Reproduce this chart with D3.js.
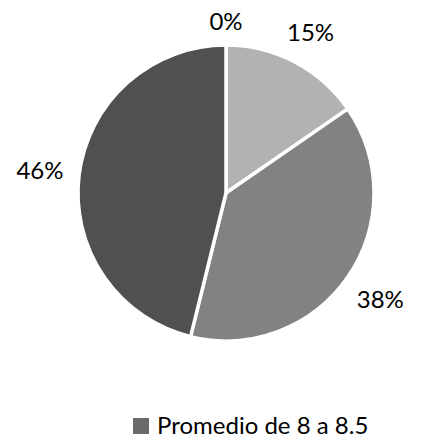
<!DOCTYPE html>
<html>
<head>
<meta charset="utf-8">
<script src="https://cdn.jsdelivr.net/npm/d3@7"></script>
<style>
  body { margin: 0; background: #fff; }
  svg text { font-family: Lato, "Open Sans", sans-serif; fill: #000; }
</style>
</head>
<body>
<svg id="chart"></svg>
<script>
// data (counts, shares shown as %)
var values = [0, 2, 5, 6];
var colors = ["#6a6a6a", "#b2b2b2", "#828282", "#505050"];
var legendLabels = ["Promedio de 8 a 8.5"];

var width = 422;
var height = 440;
var cx = 226, cy = 193;
var radius = 148;
var fontSize = 24;

var svg = d3.select('#chart')
    .attr('width', width)
    .attr('height', height);

var total = d3.sum(values);
var pct = d3.format('.0%');

var pie = d3.pie()
    .sort(null)
    .value(d => d);

var arcs = pie(values);

var arcGen = d3.arc()
    .innerRadius(0)
    .outerRadius(radius);

var g = svg.append('g')
    .attr('transform', `translate(${cx},${cy})`);

g.selectAll('path').data(arcs)
    .enter().append('path')
    .attr('d', arcGen)
    .attr('fill', (d, i) => colors[i])
    .attr('stroke', '#fff')
    .attr('stroke-width', 3.5)
    .attr('stroke-linejoin', 'round');

// labels outside the pie, pushed out by the half size of their box
var gap = 15;
var halfH = 9;
var labels = g.selectAll('text.lbl').data(arcs)
    .enter().append('text')
    .attr('class', 'lbl')
    .attr('text-anchor', 'middle')
    .style('font-size', fontSize + 'px')
    .text(d => pct(d.value / total));

labels.each(function(d) {
    var halfW = this.getBBox().width / 2;
    var a = (d.startAngle + d.endAngle) / 2;
    var s = Math.sin(a), c = Math.cos(a);
    var dist = radius + gap + Math.abs(halfW * s) + Math.abs(halfH * c);
    d3.select(this)
        .attr('x', dist * s)
        .attr('y', -dist * c + fontSize * 0.36);
});

// legend (only the first entry fits)
var legend = svg.append('g')
    .attr('transform', 'translate(133,418)');

legend.selectAll('rect').data(legendLabels)
    .enter().append('rect')
    .attr('x', 0)
    .attr('y', 0)
    .attr('width', 16)
    .attr('height', 16)
    .attr('fill', (d, i) => colors[i]);

legend.selectAll('text').data(legendLabels)
    .enter().append('text')
    .attr('x', 24)
    .attr('y', 16)
    .style('font-size', fontSize + 'px')
    .text(d => d);
</script>
</body>
</html>
